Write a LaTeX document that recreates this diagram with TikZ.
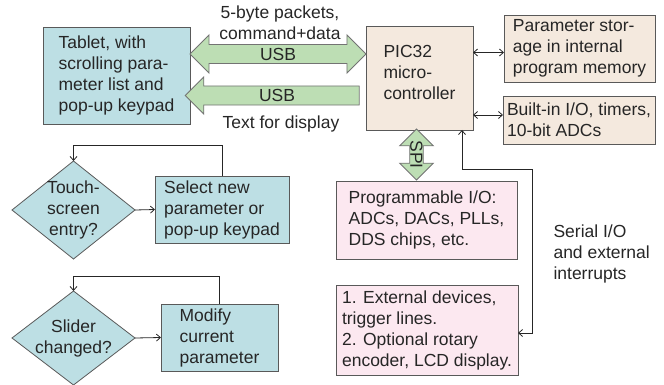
\documentclass[tikz,border=0pt]{standalone}
\usepackage{fontspec}
\setmainfont{Liberation Sans}
\usetikzlibrary{shapes.geometric,shapes.arrows,arrows.meta}
\definecolor{tabteal}{RGB}{189,223,228}
\definecolor{picbeige}{RGB}{244,233,222}
\definecolor{iopink}{RGB}{252,232,240}
\definecolor{usbgreen}{RGB}{189,222,180}
\begin{document}
\begin{tikzpicture}[x=1pt,y=-1pt,
    every node/.style={font=\fontsize{17.5}{21}\selectfont, text=black!85},
    >={Straight Barb[length=4pt,width=7pt]},
    box/.style={draw=black!65, line width=0.8pt, align=left, inner sep=0pt, outer sep=0pt},
    tealbox/.style={box, fill=tabteal},
    beigebox/.style={box, fill=picbeige},
    pinkbox/.style={box, fill=iopink},
    decision/.style={diamond, draw=black!65, line width=0.8pt, fill=tabteal, inner sep=0pt, outer sep=0pt},
    usb/.style={draw=black!55, line width=0.8pt, fill=usbgreen, inner xsep=0pt, inner ysep=3pt},
    link/.style={draw=black!85, line width=0.8pt}]
    \useasboundingbox (0,0) rectangle (664,385);

    % tablet and PIC32
    \node[tealbox, minimum width=147pt, minimum height=97pt] (tablet) at (116.5,75.5) {Tablet, with\\scrolling para-\\meter list and\\pop-up keypad};
    \node[beigebox, minimum width=107pt, minimum height=104pt] (pic) at (419.5,78) {};
    \node[align=left] (pictext) at (419.5,72) {PIC32\\micro-\\controller};
    \node[beigebox, minimum width=151pt, minimum height=67pt] (param) at (579.5,48.5) {Parameter stor-\\age in internal\\program memory};
    \node[beigebox, minimum width=152pt, minimum height=48pt] (builtin) at (579,120) {Built-in I/O, timers,\\10-bit ADCs};

    % USB links
    \node[usb, double arrow, minimum height=176pt, minimum width=38pt, double arrow head extend=9.5pt] (usbin) at (278,54) {USB};
    \node[usb, single arrow, shape border rotate=180, minimum height=174pt, minimum width=36pt, single arrow head extend=9pt] (usbout) at (277,95.5) {USB};
    \node[align=center] (packets) at (280,23) {5-byte packets,\\command+data};
    \node (display) at (281,124) {Text for display};

    % peripherals
    \node[usb, double arrow, rotate=-90, minimum height=51pt, minimum width=33pt, double arrow head extend=10pt, inner ysep=0.2pt] (spi) at (416.5,154.5) {SPI};
    \node[pinkbox, minimum width=181pt, minimum height=78pt] (progio) at (426.5,220) {Programmable I/O:\\ADCs, DACs, PLLs,\\DDS chips, etc.};
    \node[pinkbox, minimum width=182pt, minimum height=90pt] (extdev) at (427,330) {1. External devices,\\trigger lines.\\2. Optional rotary\\encoder, LCD display.};
    \node[align=left, anchor=west] (serial) at (550,254) {Serial I/O\\and external\\interrupts};

    \coordinate (parampin) at ([yshift=-4pt]param.west);
    \coordinate (builtinpin) at ([yshift=5pt]builtin.west);
    \draw[link, <->] (pic.east |- parampin) -- (parampin);
    \draw[link, <->] (pic.east |- builtinpin) -- (builtinpin);
    \coordinate (serialtop) at ([xshift=42.5pt]pic.south);
    \coordinate (serialbend) at (532,169);
    \coordinate (serialend) at ([yshift=-3pt]extdev.east);
    \draw[link, <->] (serialtop) |- (serialbend) |- (serialend);

    % tablet event loops
    \node[decision, minimum width=123pt, minimum height=98pt] (touch) at (73.5,210) {};
    \node[align=center] (touchtext) at (touch) {Touch-\\screen\\entry?};
    \node[tealbox, minimum width=134pt, minimum height=67pt] (select) at (222,209.5) {Select new\\parameter or\\pop-up keypad};
    \node[decision, minimum width=123pt, minimum height=94pt] (slider) at (73.5,338) {};
    \node[align=center] (slidertext) at (slider) {Slider\\changed?};
    \node[tealbox, minimum width=117pt, minimum height=67pt] (modify) at (219.5,337.5) {Modify\\current\\parameter};

    \draw[link, ->] (touch.east) -- (select.west);
    \draw[link, ->] (select.north) -- ++(0,-31) -| (touch.north);
    \draw[link, ->] (slider.east) -- (modify.west);
    \draw[link, ->] (modify.north) -- ++(0,-28) -| (slider.north);
\end{tikzpicture}
\end{document}
